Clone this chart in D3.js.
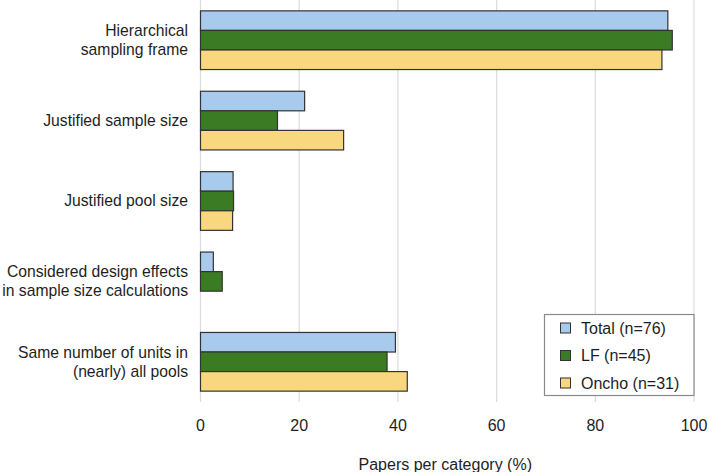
<!DOCTYPE html>
<html>
<head>
<meta charset="utf-8">
<script src="https://cdn.jsdelivr.net/npm/d3@7"></script>
<style>
body { margin: 0; background: #fff; }
text { font-family: "Liberation Sans", Arial, sans-serif; fill: #1e1e1e; }
</style>
</head>
<body>
<svg id="chart" width="709" height="472"></svg>
<script>
// categories, one label line per entry
let categories = [
	["Hierarchical", "sampling frame"],
	["Justified sample size"],
	["Justified pool size"],
	["Considered design effects", "in sample size calculations"],
	["Same number of units in", "(nearly) all pools"]
];
let seriesNames = ["Total (n=76)", "LF (n=45)", "Oncho (n=31)"];
let seriesColors = ["#a8caec", "#3b7b24", "#f8d77f"];

// percent of papers per category
let totalValues = [94.7, 21.1, 6.6, 2.6, 39.5];
let lfValues = [95.6, 15.6, 6.7, 4.4, 37.8];
let onchoValues = [93.5, 29.0, 6.5, 0, 41.9];

let xTicks = [0, 20, 40, 60, 80, 100];

let series = [totalValues, lfValues, onchoValues];

let svg = d3.select("#chart");
let plotLeft = 200.5, plotRight = 694, plotTop = 0, plotBottom = 402;

let x = d3.scaleLinear().domain([0, 100]).range([plotLeft, plotRight]);
let y = d3.scaleBand().domain(d3.range(categories.length))
	.range([plotTop, plotBottom]).paddingInner(0.27).paddingOuter(0.135);
let ySub = d3.scaleBand().domain(d3.range(series.length)).range([0, y.bandwidth()]);

// grid lines
svg.append("g").selectAll("line").data(xTicks).enter().append("line")
	.attr("x1", d => x(d)).attr("x2", d => x(d))
	.attr("y1", plotTop).attr("y2", plotBottom)
	.style("stroke", "#dcdcdc").style("stroke-width", "1.2px");

// bars
let groups = svg.append("g").selectAll("g").data(categories).enter().append("g")
	.attr("transform", (d, i) => "translate(0," + y(i) + ")");

groups.selectAll("rect")
	.data((d, i) => series.map((s, j) => ({ v: s[i], j: j })).filter(o => o.v > 0))
	.enter().append("rect")
	.attr("x", x(0))
	.attr("y", d => ySub(d.j))
	.attr("width", d => x(d.v) - x(0))
	.attr("height", ySub.bandwidth())
	.style("fill", d => seriesColors[d.j])
	.style("stroke", "#333").style("stroke-width", "1.2px");

// category labels
groups.append("text")
	.attr("text-anchor", "end")
	.attr("x", 188)
	.style("font-size", "15.7px")
	.each(function (d) {
		let t = d3.select(this);
		let lh = 19;
		let y0 = y.bandwidth() / 2 - (d.length - 1) * lh / 2;
		d.forEach((line, k) => {
			t.append("tspan").attr("x", 188).attr("y", y0 + k * lh)
				.attr("dy", "0.35em").text(line);
		});
	});

// x tick labels
svg.append("g").selectAll("text").data(xTicks).enter().append("text")
	.attr("x", d => x(d)).attr("y", 425)
	.attr("dy", "0.35em").attr("text-anchor", "middle")
	.style("font-size", "16px").text(d => d);

svg.append("text").attr("x", (plotLeft + plotRight) / 2 - 2).attr("y", 464)
	.attr("dy", "0.35em").attr("text-anchor", "middle")
	.style("font-size", "16px").text("Papers per category (%)");

// legend
let legend = svg.append("g");
legend.append("rect").attr("x", 544.5).attr("y", 314.5)
	.attr("width", 149.5).attr("height", 81)
	.style("fill", "#fff").style("stroke", "#8a8a8a").style("stroke-width", "1.2px");

let items = legend.selectAll("g.item").data(seriesNames).enter().append("g")
	.attr("transform", (d, i) => "translate(0," + (328 + i * 27.5) + ")");
items.append("rect").attr("x", 560.5).attr("y", -5).attr("width", 10).attr("height", 10)
	.style("fill", (d, i) => seriesColors[i])
	.style("stroke", "#333").style("stroke-width", "1px");
items.append("text").attr("x", 581).attr("dy", "0.35em")
	.style("font-size", "16px").text(d => d);
</script>
</body>
</html>
